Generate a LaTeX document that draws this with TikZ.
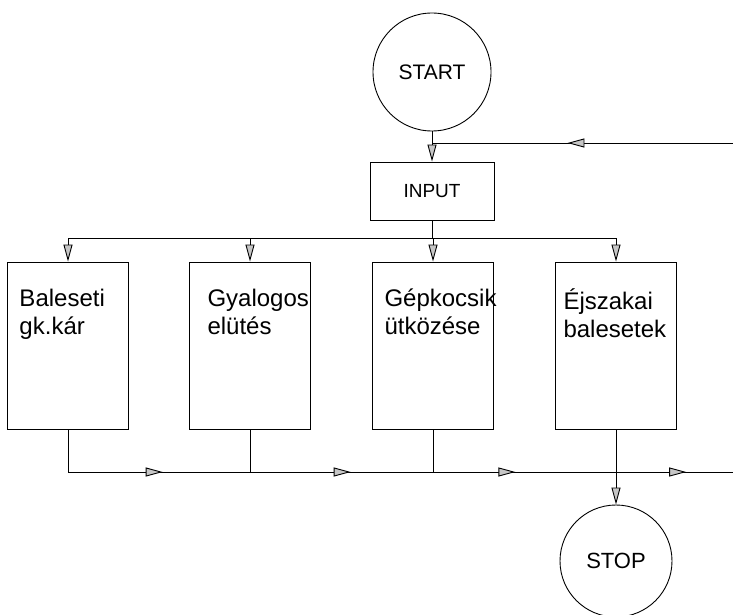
\documentclass[tikz,border=0pt]{standalone}
\usepackage{fontspec}
\setmainfont{Liberation Sans}
\usetikzlibrary{arrows.meta,decorations.markings}
\tikzset{tri/.tip={Triangle[length=17pt,width=9pt,fill=gray!45]}}
\newcommand{\bigtxt}[1]{\fontsize{#1}{28}\selectfont}

\begin{document}
\begin{tikzpicture}[x=1pt, y=-1pt, line width=0.9pt,
        midtri/.style={postaction={decorate},
            decoration={markings, mark=at position #1 with {\arrow{tri}}}}]
        \tikzstyle{circ} = [draw, circle, inner sep=0pt]
        \tikzstyle{rect} = [draw, rectangle, minimum width=121pt, minimum height=167pt]
        \tikzstyle{txt} = [anchor=north west, align=left, inner sep=0pt, xshift=12pt, yshift=-27pt, font=\bigtxt{24}]
        \useasboundingbox (0,0) rectangle (733,615);
        \node (start) [circ, minimum size=118pt, font=\bigtxt{21}] at (432,72) {START};
        \node (input) [draw, minimum width=124pt, minimum height=58pt, font=\bigtxt{19}] at (432,191) {INPUT};
        \node (gkkar) [rect, label={[txt]north west:Baleseti\\gk.kár}] at (68,345.5) {};
        \node (elutes) [rect, label={[txt, xshift=6pt]north west:Gyalogos\\elütés}] at (250,345.5) {};
        \node (utkozes) [rect, label={[txt]north west:Gépkocsik\\ütközése}] at (433,345.5) {};
        \node (ejszakai) [rect, label={[txt, xshift=-4pt]north west:Éjszakai\\balesetek}] at (616,345.5) {};
        \node (stop) [circ, minimum size=112pt, font=\bigtxt{22}] at (616,561) {STOP};
        % loop back into the input
        \coordinate (loop) at (733,143);
        \coordinate (merge) at (start.south |- loop);
        \draw[-tri] (start) -- (input);
        \draw[midtri=0.55] (loop) -- (merge);
        % split to the four cases
        \coordinate (split) at (432,238);
        \draw (input) -- (split);
        \foreach \b in {gkkar, elutes, utkozes, ejszakai}
            \draw[-tri] (split) -| (\b.north);
        % collect the outputs
        \coordinate (exit) at (733,472);
        \foreach \b/\j in {gkkar/j1, elutes/j2, utkozes/j3} {
            \coordinate (\j) at (\b.south |- exit);
            \draw (\b.south) -- (\j);
        }
        \coordinate (j4) at (ejszakai.south |- exit);
        \draw[midtri=0.52] (j1) -- (j2);
        \draw[midtri=0.55] (j2) -- (j3);
        \draw[midtri=0.45] (j3) -- (j4);
        \draw[midtri=0.6] (j4) -- (exit);
        \draw[-tri] (ejszakai.south) -- (stop);
    \end{tikzpicture}
\end{document}
